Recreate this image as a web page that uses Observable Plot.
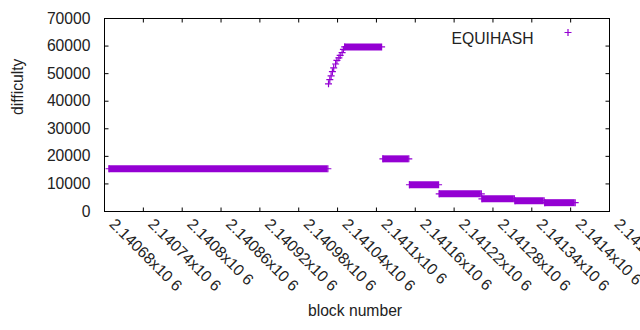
<!DOCTYPE html>
<html>
<head>
<meta charset="utf-8">
<script src="https://cdn.jsdelivr.net/npm/d3@7"></script>
<script src="https://cdn.jsdelivr.net/npm/@observablehq/plot@0.6"></script>
<style>
  html, body { margin: 0; padding: 0; background: white; }
  #chart { width: 640px; height: 330px; overflow: hidden; }
</style>
</head>
<body>
<div id="chart"></div>
<script>
// Flat runs of difficulty (block ranges with a constant value)
const segStart      = [2140687, 2141051, 2141110, 2141151, 2141197, 2141263, 2141314, 2141360];
const segEnd        = [2141025, 2141108, 2141150, 2141196, 2141262, 2141313, 2141359, 2141407];
const segDifficulty = [15500, 59700, 19100, 9700, 6400, 4600, 3900, 3200];

// Individual blocks on the ramp
const rampBlock      = [2141026, 2141028, 2141030, 2141032, 2141034, 2141037, 2141039, 2141042, 2141044, 2141047, 2141049];
const rampDifficulty = [46300, 47800, 49200, 50700, 52100, 53500, 54800, 55700, 56600, 57600, 58800];

// Axes
const xTicks = [2140680, 2140740, 2140800, 2140860, 2140920, 2140980, 2141040, 2141100, 2141160, 2141220, 2141280, 2141340, 2141400, 2141460];
const xTickLabels = ["2.14068x10 6", "2.14074x10 6", "2.1408x10 6", "2.14086x10 6", "2.14092x10 6", "2.14098x10 6", "2.14104x10 6", "2.1411x10 6", "2.14116x10 6", "2.14122x10 6", "2.14128x10 6", "2.14134x10 6", "2.1414x10 6", "2.14146x10 6"];
const yTicks = [0, 10000, 20000, 30000, 40000, 50000, 60000, 70000];
const yTickLabels = ["0", "10000", "20000", "30000", "40000", "50000", "60000", "70000"];
const seriesName = "EQUIHASH";

const color = "#9400d3";
const font = "'Liberation Sans', Arial, sans-serif";
const fs = "15.7px";

const segments = segStart.map((s, i) => ({start: s, end: segEnd[i], difficulty: segDifficulty[i]}));
const ramp = rampBlock.map((b, i) => ({block: b, difficulty: rampDifficulty[i]}));
const ends = segments.flatMap(d => [{block: d.start, difficulty: d.difficulty}, {block: d.end, difficulty: d.difficulty}]);

const plus = {draw(ctx) { const r = 3.5; ctx.moveTo(-r, 0); ctx.lineTo(r, 0); ctx.moveTo(0, -r); ctx.lineTo(0, r); }};
const tk = 4;
const tickL = {draw(ctx) { ctx.moveTo(0, 0); ctx.lineTo(tk, 0); }};
const tickR = {draw(ctx) { ctx.moveTo(0, 0); ctx.lineTo(-tk, 0); }};
const tickB = {draw(ctx) { ctx.moveTo(0, 0); ctx.lineTo(0, -tk); }};
const tickT = {draw(ctx) { ctx.moveTo(0, 0); ctx.lineTo(0, tk); }};

const xIdx = xTicks.map((d, i) => i);
const yIdx = yTicks.map((d, i) => i);

const chart = Plot.plot({
  width: 640,
  height: 330,
  marginLeft: 104,
  marginRight: 31,
  marginTop: 18,
  marginBottom: 119,
  style: {fontFamily: font, fontSize: fs, background: "white", color: "black"},
  x: {domain: [2140680, 2141460], axis: null},
  y: {domain: [0, 70000], axis: null},
  marks: [
    // tick marks (inward, mirrored)
    Plot.dot(yTicks, {y: d => d, frameAnchor: "left", symbol: tickL, stroke: "black", strokeWidth: 1, r: 1}),
    Plot.dot(yTicks, {y: d => d, frameAnchor: "right", symbol: tickR, stroke: "black", strokeWidth: 1, r: 1}),
    Plot.dot(xTicks, {x: d => d, frameAnchor: "bottom", symbol: tickB, stroke: "black", strokeWidth: 1, r: 1}),
    Plot.dot(xTicks, {x: d => d, frameAnchor: "top", symbol: tickT, stroke: "black", strokeWidth: 1, r: 1}),
    // data
    Plot.ruleY(segments, {y: "difficulty", x1: "start", x2: "end", stroke: color, strokeWidth: 7, strokeLinecap: "butt"}),
    Plot.dot(ends, {x: "block", y: "difficulty", symbol: plus, stroke: color, strokeWidth: 1.2, r: 1}),
    Plot.dot(ramp, {x: "block", y: "difficulty", symbol: plus, stroke: color, strokeWidth: 1.2, r: 1}),
    Plot.frame({stroke: "black", strokeWidth: 1}),
    // tick labels
    Plot.text(yIdx, {y: i => yTicks[i], text: i => yTickLabels[i], frameAnchor: "left", dx: -14, textAnchor: "end", fill: "#222", fontSize: fs}),
    Plot.text(xIdx, {x: i => xTicks[i], text: i => xTickLabels[i], frameAnchor: "bottom", dx: 4, dy: 13.5, rotate: 45, textAnchor: "start", fill: "#222", fontSize: fs}),
    // axis titles
    Plot.text(["difficulty"], {text: d => d, frameAnchor: "left", dx: -87, rotate: -90, fill: "#222", fontSize: fs}),
    Plot.text(["block number"], {text: d => d, frameAnchor: "bottom", dx: -2, dy: 104, fill: "#222", fontSize: fs}),
    // legend
    Plot.text([seriesName], {text: d => d, frameAnchor: "top-right", dx: -76, dy: 14, textAnchor: "end", fill: "#222", fontSize: fs}),
    Plot.dot([seriesName], {frameAnchor: "top-right", dx: -41.5, dy: 14, symbol: plus, stroke: color, strokeWidth: 1.2, r: 1})
  ]
});
document.getElementById("chart").appendChild(chart);
</script>
</body>
</html>
